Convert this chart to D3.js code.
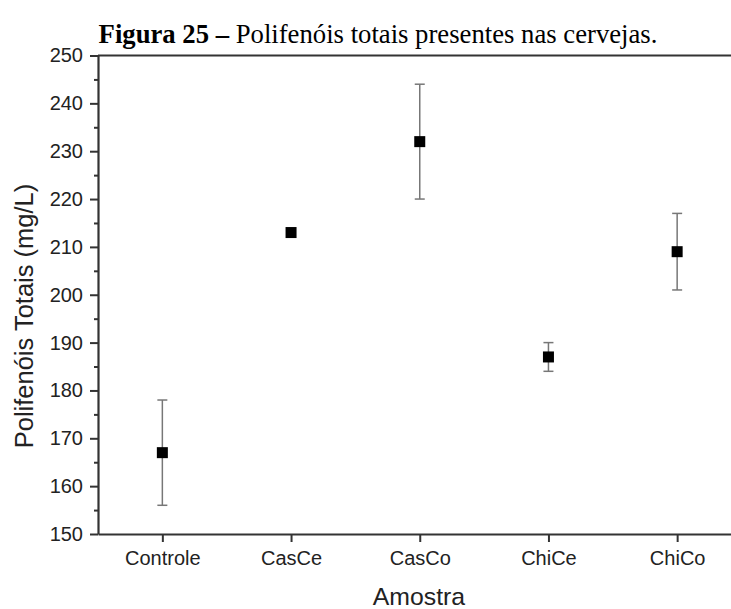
<!DOCTYPE html>
<html>
<head>
<meta charset="utf-8">
<script src="https://cdn.jsdelivr.net/npm/d3@7"></script>
<style>
  body { margin: 0; background: #fff; }
  svg { display: block; }
</style>
</head>
<body>
<script>
// Sample names and measured values (mg/L)
const amostras = ["Controle", "CasCe", "CasCo", "ChiCe", "ChiCo"];
const media = [167, 213, 232, 187, 209];
const desvio = [11, 0, 12, 3, 8];
const yTicks = [150, 160, 170, 180, 190, 200, 210, 220, 230, 240, 250];

const width = 731, height = 609;
const plotLeft = 98, plotTop = 55.5, plotBottom = 534;
const step = 128.7;
const plotRight = plotLeft + step * amostras.length;

const svg = d3.select("body").append("svg")
    .attr("width", width)
    .attr("height", height);

// Scales
const x = d3.scalePoint()
    .domain(amostras)
    .range([plotLeft, plotRight])
    .padding(0.5);
const y = d3.scaleLinear()
    .domain([150, 250])
    .range([plotBottom, plotTop]);

// Title
const title = svg.append("text")
    .attr("x", 378)
    .attr("y", 43)
    .attr("text-anchor", "middle")
    .style("font-family", "'Liberation Serif', 'Times New Roman', serif")
    .style("font-size", "26.7px")
    .style("fill", "#000");
title.append("tspan").style("font-weight", "bold").text("Figura 25 \u2013");
title.append("tspan").text(" Polifenóis totais presentes nas cervejas.");

const axisColor = "#333";
const tickFont = "'Liberation Sans', Arial, sans-serif";

// Top frame line
svg.append("line")
    .attr("x1", plotLeft).attr("x2", plotRight)
    .attr("y1", plotTop).attr("y2", plotTop)
    .attr("stroke", axisColor)
    .attr("stroke-width", 2);

// Y axis with minor ticks
const yMinor = d3.range(155, 250, 10);
svg.append("g")
    .attr("transform", `translate(${plotLeft},0)`)
    .call(d3.axisLeft(y).tickValues(yMinor).tickSize(4).tickFormat(""))
    .call(g => g.select(".domain").remove())
    .selectAll("line").attr("stroke", axisColor).attr("stroke-width", 2);

const yAxis = svg.append("g")
    .attr("transform", `translate(${plotLeft},0)`)
    .call(d3.axisLeft(y).tickValues(yTicks).tickSize(8).tickPadding(7).tickSizeOuter(0));
yAxis.select(".domain").attr("stroke", axisColor).attr("stroke-width", 2.2);
yAxis.selectAll(".tick line").attr("stroke", axisColor).attr("stroke-width", 2);
yAxis.selectAll(".tick text")
    .style("font-family", tickFont)
    .style("font-size", "20px")
    .style("fill", "#222");

// X axis
const xAxis = svg.append("g")
    .attr("transform", `translate(0,${plotBottom})`)
    .call(d3.axisBottom(x).tickSize(8).tickPadding(9).tickSizeOuter(0));
xAxis.select(".domain").attr("stroke", axisColor).attr("stroke-width", 2.2);
xAxis.selectAll(".tick line").attr("stroke", axisColor).attr("stroke-width", 2);
xAxis.selectAll(".tick text")
    .style("font-family", tickFont)
    .style("font-size", "20px")
    .style("fill", "#222");

// Axis titles
svg.append("text")
    .attr("transform", "translate(33,316) rotate(-90)")
    .attr("text-anchor", "middle")
    .style("font-family", tickFont)
    .style("font-size", "25.5px")
    .style("fill", "#222")
    .text("Polifenóis Totais (mg/L)");

svg.append("text")
    .attr("x", 419)
    .attr("y", 605)
    .attr("text-anchor", "middle")
    .style("font-family", tickFont)
    .style("font-size", "24.8px")
    .style("fill", "#222")
    .text("Amostra");

// Error bars
const dados = amostras.map((a, i) => ({ a, m: media[i], s: desvio[i] }));
const err = svg.append("g")
    .attr("stroke", "#777")
    .attr("stroke-width", 1.5);
dados.filter(d => d.s > 0).forEach(d => {
    const cx = x(d.a);
    err.append("line")
        .attr("x1", cx).attr("x2", cx)
        .attr("y1", y(d.m - d.s)).attr("y2", y(d.m + d.s));
    [d.m - d.s, d.m + d.s].forEach(v => {
        err.append("line")
            .attr("x1", cx - 5).attr("x2", cx + 5)
            .attr("y1", y(v)).attr("y2", y(v));
    });
});

// Markers
svg.append("g").selectAll("rect")
    .data(dados)
    .join("rect")
    .attr("x", d => x(d.a) - 5.5)
    .attr("y", d => y(d.m) - 5.5)
    .attr("width", 11)
    .attr("height", 11)
    .attr("fill", "#000");
</script>
</body>
</html>
